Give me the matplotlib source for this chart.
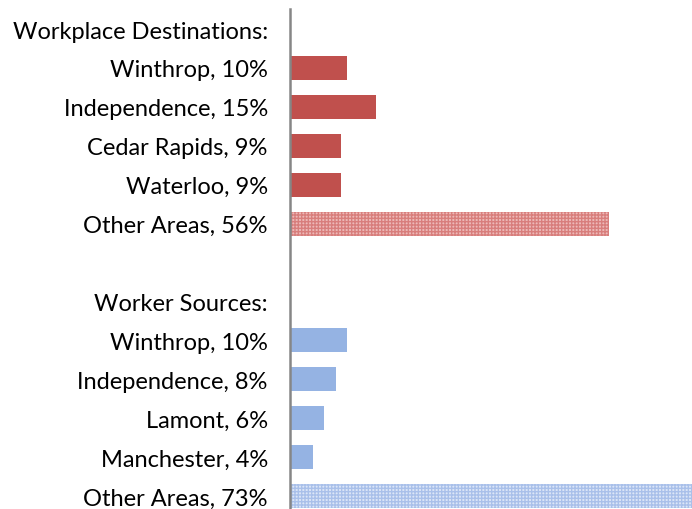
import matplotlib
matplotlib.use("Agg")
import matplotlib.pyplot as plt

labels = ["Workplace Destinations:", "Winthrop, 10%", "Independence, 15%", "Cedar Rapids, 9%",
          "Waterloo, 9%", "Other Areas, 56%", "", "Worker Sources:", "Winthrop, 10%",
          "Independence, 8%", "Lamont, 6%", "Manchester, 4%", "Other Areas, 73%"]
values = [None, 10, 15, 9, 9, 56, None, None, 10, 8, 6, 4, 73]
groups = [None, "dest", "dest", "dest", "dest", "dest_other", None, None,
          "src", "src", "src", "src", "src_other"]

styles = {
    "dest": dict(color="#C0504D"),
    "dest_other": dict(facecolor="#EDB9B8", edgecolor="#D87E7C", hatch="+++++"),
    "src": dict(color="#95B3E3"),
    "src_other": dict(facecolor="#DCE6F7", edgecolor="#A9C0EA", hatch="+++++"),
}

plt.rcParams['font.family'] = ['Lato', 'DejaVu Sans']
plt.rcParams['hatch.linewidth'] = 1.0

fig = plt.figure(figsize=(6.92, 5.10), dpi=100)
ax = fig.add_axes([290/692, 0.0, 1 - 290/692, 1 - 10/510])

for i, (v, g) in enumerate(zip(values, groups)):
    if v is None:
        continue
    st = styles[g]
    if "hatch" in st:
        plt.rcParams['hatch.color'] = st["edgecolor"]
        ax.barh(i, v, height=0.62, facecolor=st["facecolor"], edgecolor=st["edgecolor"],
                hatch=st["hatch"], linewidth=0)
    else:
        ax.barh(i, v, height=0.62, color=st["color"], linewidth=0)

ax.set_xlim(0, 70.5)
ax.set_ylim(12.334, -0.514)
ax.set_yticks(range(len(labels)))
ax.set_yticklabels(labels, fontsize=17, color="#000000")
ax.tick_params(axis='y', length=0, pad=16)
ax.set_xticks([])
for s in ["top", "right", "bottom"]:
    ax.spines[s].set_visible(False)
ax.spines["left"].set_color("#868686")
ax.spines["left"].set_linewidth(1.8)

fig.savefig("out.png", dpi=100)
